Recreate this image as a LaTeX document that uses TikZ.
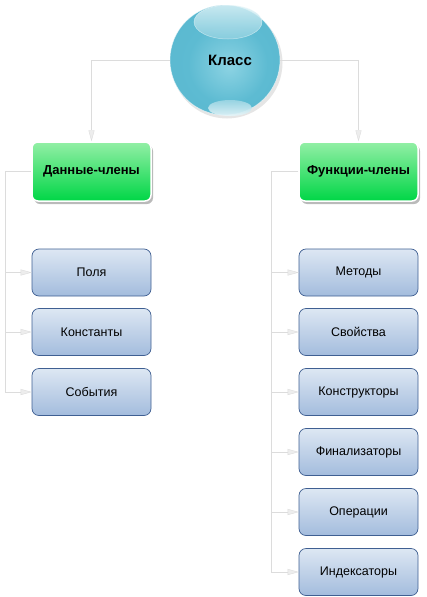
\documentclass[tikz,border=0pt]{standalone}
\usepackage{fontspec}
\setmainfont{Liberation Sans}
\usetikzlibrary{arrows.meta,shadows}
\definecolor{lineg}{HTML}{DCDCDC}
\definecolor{arrg}{HTML}{EDEDED}
\definecolor{bluetop}{HTML}{DDE7F3}
\definecolor{bluebot}{HTML}{A3BCDD}
\definecolor{blueedge}{HTML}{3F5F92}
\definecolor{greentop}{HTML}{93EFA6}
\definecolor{greenbot}{HTML}{00D646}
\definecolor{ballin}{HTML}{8CD3E3}
\definecolor{ballmid}{HTML}{5DBBD2}
\definecolor{ballout}{HTML}{3E9FBB}
\pgfdeclareradialshading{ballshade}{\pgfpoint{2bp}{-3bp}}{color(0bp)=(ballin); color(18bp)=(ballmid); color(40bp)=(ballmid!85!ballout); color(50bp)=(ballout)}
\tikzset{
  conn/.style={draw=lineg, line width=0.9pt, -{Triangle[length=11pt,width=6pt,fill=arrg,color=lineg,line width=0.4pt]}},
  bluebox/.style={draw=blueedge, line width=0.7pt, rounded corners=7pt, top color=bluetop, bottom color=bluebot,
    minimum width=119pt, minimum height=47pt, inner sep=0pt, font=\fontsize{12.5}{14}\selectfont},
  greenbox/.style={draw=white, line width=1.5pt, rounded corners=6pt, top color=greentop, bottom color=greenbot,
    minimum width=119pt, minimum height=59pt, inner sep=0pt, font=\fontsize{13}{15}\selectfont\bfseries,
    drop shadow={shadow xshift=2pt, shadow yshift=-3pt, opacity=0.45, fill=black!60}},
}
\begin{document}
\begin{tikzpicture}[x=1pt,y=-1pt]
\useasboundingbox (0,0) rectangle (426,597);
% ball
\fill[black!20, opacity=0.5] (227,63) circle (55.5);
\shade[shading=ballshade] (225,60) circle (55);
\draw[white, line width=0.6pt, opacity=0.6] (225,60) circle (55);
\node[circle, minimum size=110pt, inner sep=0pt] (klass) at (225,60) {};
\shade[top color=white!75!ballin, bottom color=ballmid!70!white, opacity=0.8] (228,22) ellipse (34 and 17);
\draw[white, opacity=0.5, line width=0.5pt] (228,22) ellipse (34 and 17);
\shade[top color=ballmid!60!white, bottom color=white!80!ballin, opacity=0.9] (230,108) ellipse (22 and 8);
\node[font=\fontsize{15}{17}\selectfont\bfseries] (klasstext) at (230,60) {Класс};
% green
\node[greenbox] (data) at (91.5,171.5) {Данные-члены};
\node[greenbox] (func) at (358.5,171.5) {Функции-члены};
% blue left
\node[bluebox] (polya) at (91.5,272.5) {Поля};
\node[bluebox] (konst) at (91.5,332) {Константы};
\node[bluebox] (sob) at (91.5,392) {События};
% blue right
\node[bluebox] (met) at (358.5,272.5) {Методы};
\node[bluebox] (svo) at (358.5,332) {Свойства};
\node[bluebox] (kon) at (358.5,392) {Конструкторы};
\node[bluebox] (fin) at (358.5,452) {Финализаторы};
\node[bluebox] (oper) at (358.5,512) {Операции};
\node[bluebox] (ind) at (358.5,572) {Индексаторы};
% connectors top
\draw[conn] (klass.west) -| (data.north);
\draw[conn] (klass.east) -| (func.north);
% left
\coordinate (lx) at (5,171.5);
\draw[draw=lineg, line width=0.9pt] (data.west) -- (lx);
\foreach \n in {polya,konst,sob} {
  \draw[conn] (lx) |- (\n.west);
}
\coordinate (rx) at (271,171.5);
\draw[draw=lineg, line width=0.9pt] (func.west) -- (rx);
\foreach \n in {met,svo,kon,fin,oper,ind} {
  \draw[conn] (rx) |- (\n.west);
}
\end{tikzpicture}
\end{document}
